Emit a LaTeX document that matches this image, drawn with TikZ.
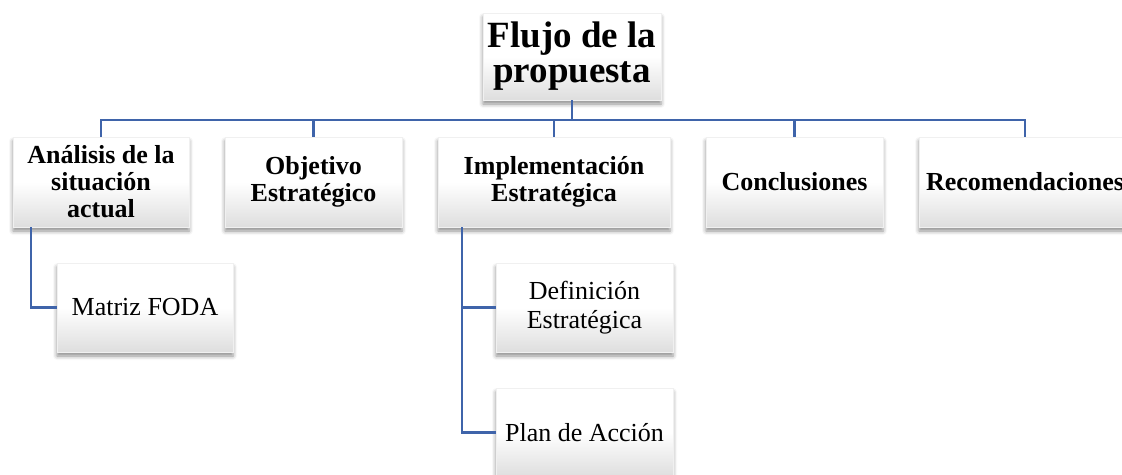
\documentclass[tikz,border=0pt]{standalone}
\usepackage{fontspec}
\setmainfont{Liberation Serif}
\usetikzlibrary{shadows.blur}
\definecolor{linkblue}{RGB}{63,100,170}
\tikzset{
  box/.style={rectangle, inner xsep=2pt, inner ysep=0pt, align=center,
    top color=white, bottom color=black!13, middle color=white,
    draw=black!6, line width=0.4pt,
    blur shadow={shadow xshift=0pt, shadow yshift=-4pt, shadow blur radius=4pt, shadow opacity=45}},
  lvl/.style={box, minimum height=90pt, font=\bfseries\fontsize{26}{27}\selectfont},
  sub/.style={box, minimum height=89pt, minimum width=177pt, font=\fontsize{26}{29}\selectfont},
  link/.style={draw=linkblue, line width=2.6pt}
}
\begin{document}
\begin{tikzpicture}[x=1pt,y=-1pt]
\useasboundingbox (0,0) rectangle (1122,474);
\begin{scope}
\clip (0,0) rectangle (1122,474);
\node[box, minimum width=178pt, minimum height=87pt,
  font=\bfseries\fontsize{37}{35}\selectfont] (root) at (572,56.5) {Flujo de la\\propuesta};
\node[lvl, minimum width=176pt] (b1) at (101,182) {Análisis de la\\situación\\actual};
\node[lvl, minimum width=177pt] (b2) at (313.5,182) {Objetivo\\Estratégico};
\node[lvl, minimum width=232pt] (b3) at (554,182) {Implementación\\Estratégica};
\node[lvl, minimum width=177pt] (b4) at (794.5,182) {Conclusiones};
\node[lvl, minimum width=212pt] (b5) at (1025,182) {Recomendaciones};
\node[sub, minimum width=176pt] (foda) at (145,307.5) {Matriz FODA};
\node[sub] (def) at (584.5,307.5) {Definición\\Estratégica};
\node[sub] (plan) at (584.5,432.5) {Plan de Acción};
\coordinate (bus) at (572,120);
\draw[link] (root.south) -- (bus);
\draw[link] (b1.north) |- (bus) -| (b5.north);
\draw[link] (b2.north) -- (b2.north |- bus);
\draw[link] (b3.north) -- (b3.north |- bus);
\draw[link] (b4.north) -- (b4.north |- bus);
\draw[link] ([xshift=18pt]b1.south west) |- (foda.west);
\draw[link] ([xshift=24pt]b3.south west) |- (def.west);
\draw[link] ([xshift=24pt]b3.south west) |- (plan.west);
\end{scope}
\end{tikzpicture}
\end{document}
